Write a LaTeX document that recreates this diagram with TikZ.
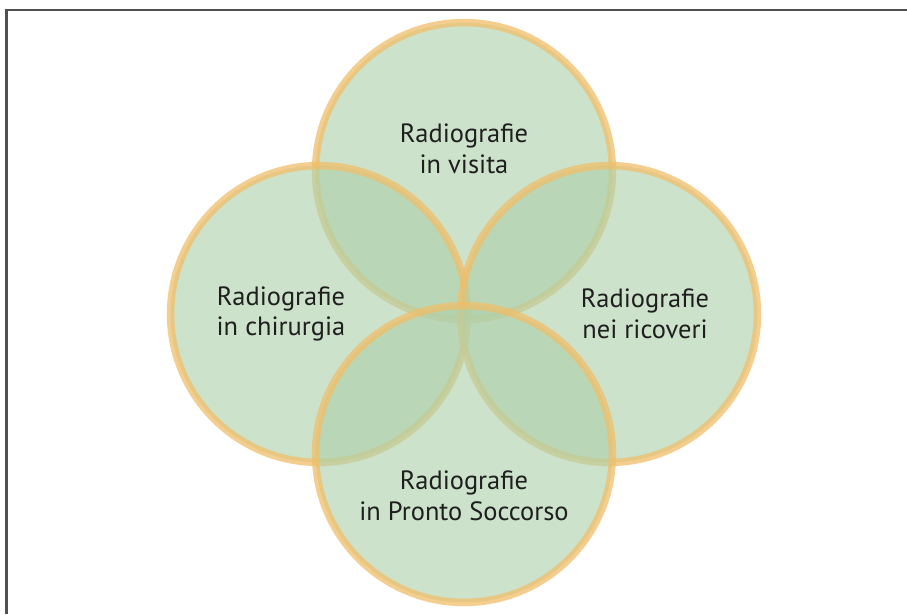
\documentclass[tikz,border=0pt]{standalone}
\usepackage{fontspec}
\setmainfont{PT Sans}
\usepackage{xcolor}
\usetikzlibrary{positioning}
\definecolor{ringfill}{RGB}{174,209,172}
\definecolor{ringline}{RGB}{240,190,105}
\definecolor{framegray}{RGB}{80,80,80}

\begin{document}
\begin{tikzpicture}[
  x=0.025cm, y=-0.025cm,
  ring/.style={draw=ringline,circle,minimum size=7.42cm,inner sep=0pt,
    fill=ringfill,fill opacity=0.63,draw opacity=0.75,line width=5.3pt},
  lbl/.style={font=\fontsize{18.8}{21.8}\selectfont,align=center,text=black!88}
]
\useasboundingbox (0,0) rectangle (907,614);
\draw[framegray,line width=1.6pt] (6.5,614) -- (6.5,10) -- (907,10);

\node[ring] (visita) at (464,171) {};
\node[ring] (chir) at (319,314) {};
\node[ring] (ricov) at (609,314) {};
\node[ring] (ps) at (464,454) {};

\node[lbl] (tvisita) at (464,149) {Radiografie\\in visita};
\node[lbl] (tchir) at (281,314) {Radiografie\\in chirurgia};
\node[lbl] (tricov) at (645,314) {Radiografie\\nei ricoveri};
\node[lbl] (tps) at (464,496) {Radiografie\\in Pronto Soccorso};

\end{tikzpicture}
\end{document}
